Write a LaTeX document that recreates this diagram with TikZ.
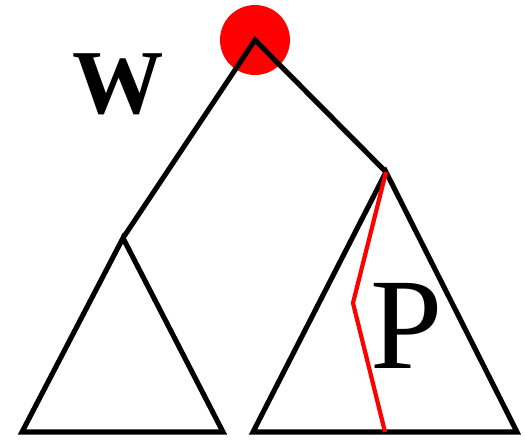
\documentclass[tikz,border=0pt]{standalone}
\usepackage{fontspec}
\setmainfont{Liberation Serif}
\usetikzlibrary{positioning}
\tikzset{
  treeline/.style={line width=2.9pt, black, line join=miter},
  rootdot/.style={circle, fill=red, minimum size=1.4cm, inner sep=0pt},
  redpath/.style={line width=2.4pt, red},
  biglabel/.style={inner sep=0pt, anchor=base}
}
\begin{document}
\begin{tikzpicture}[x=0.02cm, y=-0.02cm]
  \useasboundingbox (0,0) rectangle (525,441);
  % root and the two children
  \node[rootdot] (root) at (255,40) {};
  \coordinate (lchild) at (123,238);
  \coordinate (rchild) at (386,172);
  \coordinate (lbl) at (22,432);
  \coordinate (lbr) at (223,432);
  \coordinate (rbl) at (253,432);
  \coordinate (rbr) at (517,432);
  \draw[treeline] (lchild) -- (root.center) -- (rchild);
  % subtrees
  \draw[treeline] (lchild) -- (lbl) -- (lbr) -- cycle;
  \draw[treeline] (rchild) -- (rbl) -- (rbr) -- cycle;
  % path inside P
  \coordinate (bend) at (353,303);
  \coordinate (pend) at (385,432);
  \draw[redpath] (rchild) -- (bend) -- (pend);
  \node[biglabel, font=\fontsize{52}{52}\selectfont\bfseries] (wlabel) at (118,113) {W};
  \node[biglabel, font=\fontsize{74}{74}\selectfont] (plabel) at (407,368) {P};
\end{tikzpicture}
\end{document}
